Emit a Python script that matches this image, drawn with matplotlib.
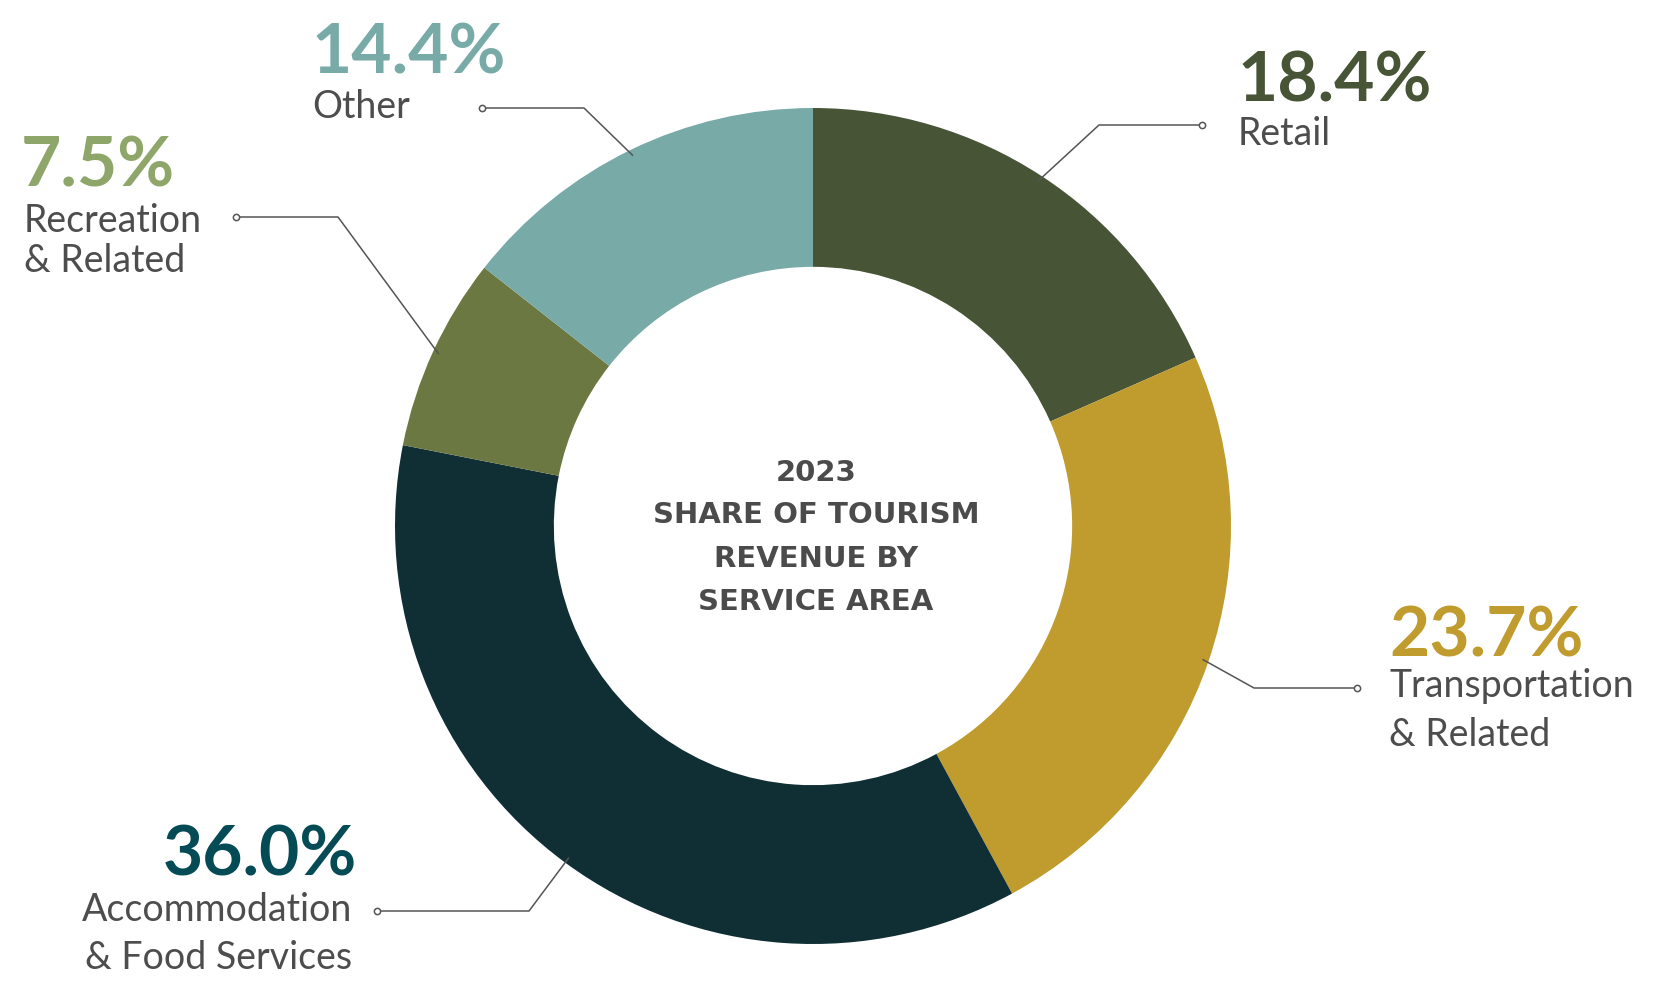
import matplotlib
matplotlib.use("Agg")
import matplotlib.pyplot as plt
import numpy as np

W, H = 1655, 987

categories = [["Retail"], ["Transportation", "& Related"], ["Accommodation", "& Food Services"],
              ["Recreation", "& Related"], ["Other"]]
shares = [18.4, 23.7, 36.0, 7.5, 14.4]
wedge_colors = ["#475436", "#C09B2D", "#0F2F35", "#6B7842", "#78ABA8"]
number_colors = ["#475436", "#C09B2D", "#044B55", "#8FA66A", "#78ABA8"]
center_title = ["2023", "SHARE OF TOURISM", "REVENUE BY", "SERVICE AREA"]

# label layout in pixel coords (y from top): number anchor, text line baselines, align, dot, elbow
layout = [
    dict(num=(1237, 102), lab_x=1238, lab_y=[145], ha="left", dot=(1202, 126), elbow=(1099, 126)),
    dict(num=(1389, 657), lab_x=1389, lab_y=[697, 746], ha="left", dot=(1357, 689), elbow=(1254, 689)),
    dict(num=(357, 876), lab_x=352, lab_y=[921, 969], ha="right", dot=(377, 912), elbow=(529, 912)),
    dict(num=(21, 187), lab_x=24, lab_y=[232, 272], ha="left", dot=(236, 218), elbow=(338, 218)),
    dict(num=(311, 74), lab_x=312, lab_y=[118], ha="left", dot=(482, 109), elbow=(584, 109)),
]

cx, cy, R = 813, 527, 418
text_gray = "#4D4D4D"

fig = plt.figure(figsize=(W / 100, H / 100), dpi=100)
ax = fig.add_axes([0, 0, 1, 1])

ax.pie(shares, colors=wedge_colors, startangle=90, counterclock=False,
       center=(cx, H - cy), radius=R,
       wedgeprops=dict(width=R * 0.38, linewidth=0))
ax.set_xlim(0, W)
ax.set_ylim(0, H)
ax.set_aspect("equal")
ax.axis("off")

# leader lines, inner end near the mid-angle of each wedge
start = 90.0
for i, s in enumerate(shares):
    mid = np.deg2rad(start - s * 3.6 / 2)
    start -= s * 3.6
    ex = cx + 0.985 * R * np.cos(mid)
    ey = H - cy + 0.985 * R * np.sin(mid)
    L = layout[i]
    xs = [L["dot"][0], L["elbow"][0], ex]
    ys = [H - L["dot"][1], H - L["elbow"][1], ey]
    ax.plot(xs, ys, color="#555555", lw=1.1, zorder=3, solid_capstyle="butt")
    ax.plot(L["dot"][0], H - L["dot"][1], "o", ms=4.5, mfc="white",
            mec="#555555", mew=1.1, zorder=4)

    ax.text(L["num"][0], H - L["num"][1], f"{s:.1f}%", ha=L["ha"], va="baseline",
            fontsize=50, fontweight="bold", family="Lato", color=number_colors[i])
    for line, yb in zip(categories[i], L["lab_y"]):
        ax.text(L["lab_x"], H - yb, line, ha=L["ha"], va="baseline",
                fontsize=27, family="Lato", color=text_gray)

baselines = [481, 523, 567, 610]
for line, yb in zip(center_title, baselines):
    ax.text(816, H - yb, line, ha="center", va="baseline", fontsize=21,
            fontweight="bold", family="DejaVu Sans", color="#4B4B4B")

fig.savefig("out.png", dpi=100)
